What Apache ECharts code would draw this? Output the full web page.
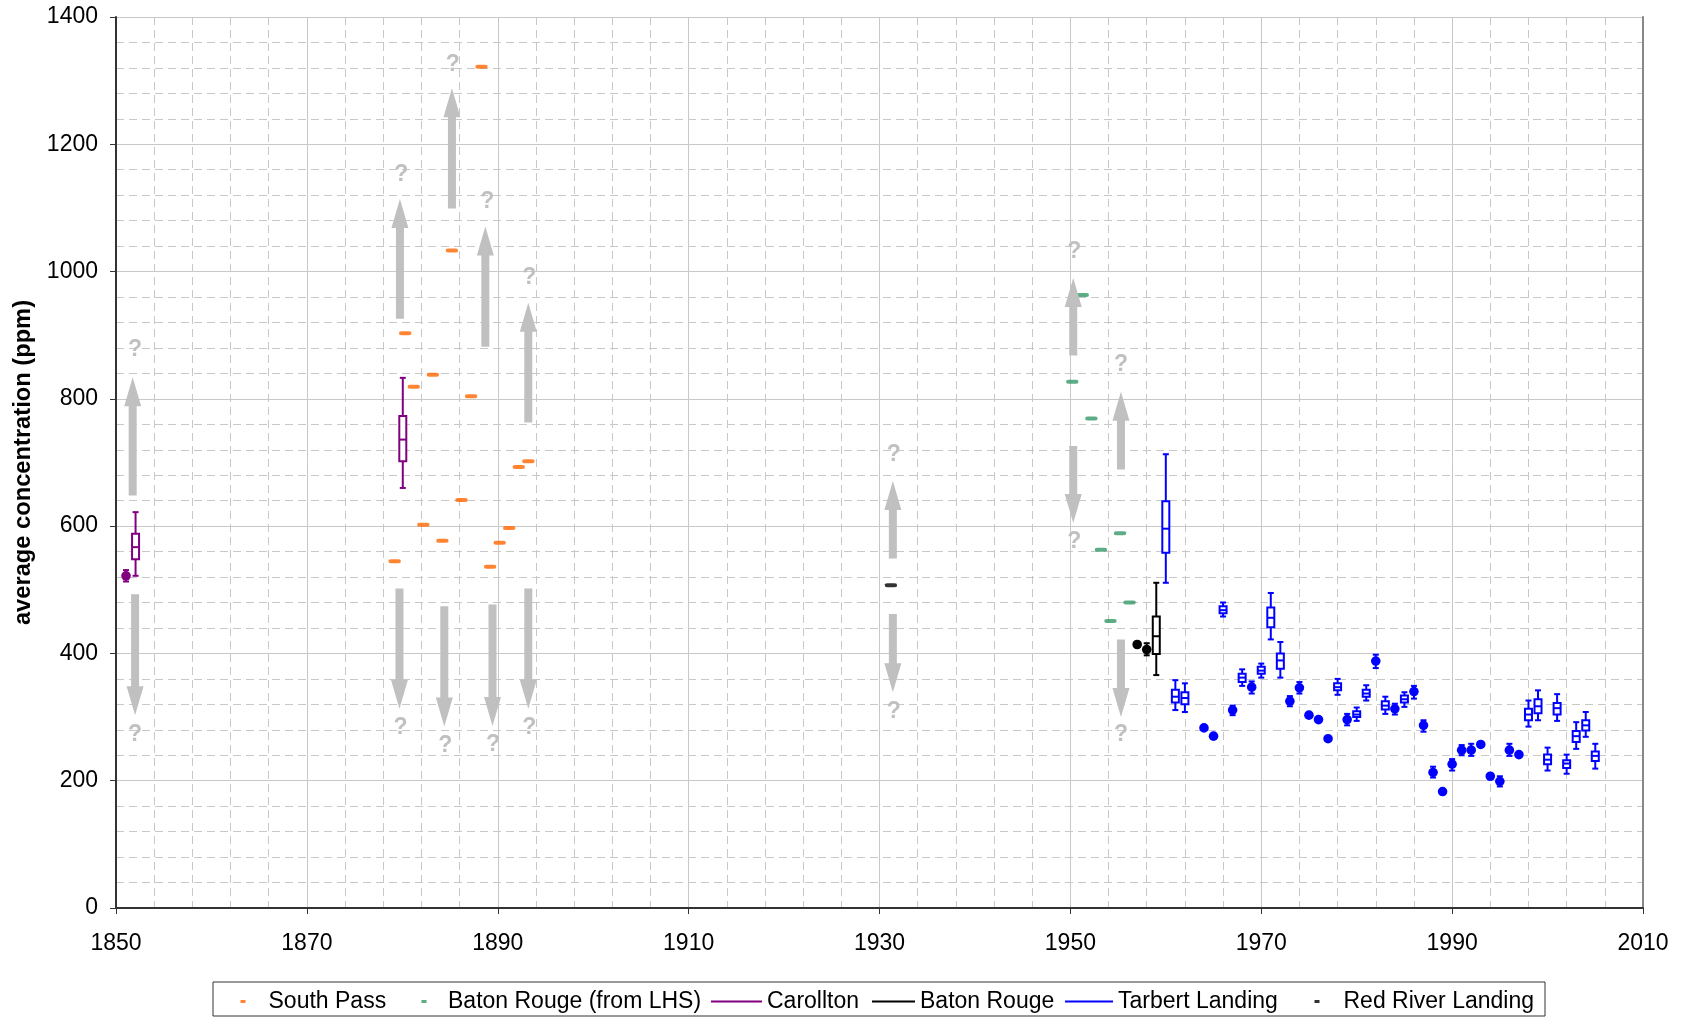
<!DOCTYPE html>
<html>
<head>
<meta charset="utf-8">
<title>Average concentration (ppm)</title>
<script src="https://cdn.jsdelivr.net/npm/echarts@6/dist/echarts.min.js"></script>
<style>
  html, body { margin: 0; padding: 0; background: #fff; }
  #chart { width: 1684px; height: 1018px; }
</style>
</head>
<body>
<div id="chart"></div>
<script>
// values
const xTicks = [1850, 2010, 20];   // min, max, step
const yTicks = [0, 1400, 200];

const southPassYears = [1879.2, 1880.3, 1881.2, 1882.2, 1883.2, 1884.2, 1885.2, 1886.2, 1887.2, 1888.3, 1889.2, 1890.2, 1891.2, 1892.2, 1893.2];
const southPassValues = [545, 903, 819, 602, 838, 577, 1033, 641, 804, 1322, 536, 574, 597, 693, 702];

const batonRougeLhsYears = [1950.2, 1951.3, 1952.2, 1953.2, 1954.2, 1955.2, 1956.2];
const batonRougeLhsValues = [827, 963, 769, 563, 451, 589, 480];

const redRiverYears = [1931.2];
const redRiverValues = [507];

// boxes: [year, low, q1, median, q3, high]; blobs: [year, low, mid, high]; dots: [year, value]
const carolltonBoxes = [[1852.05, 522, 548, 567, 588, 622], [1880.05, 660, 702, 736, 773, 833]];
const carolltonBlobs = [[1851.05, 513, 522, 531]];

const batonRougeBoxes = [[1959, 366, 399, 427, 458, 511]];
const batonRougeBlobs = [[1958, 397, 406, 416]];
const batonRougeDots = [[1957, 414]];

const tarbertBoxes = [
  [1960, 511, 558, 596, 639, 713], [1961, 311, 323, 332, 343, 358], [1962, 308, 320, 330, 339, 353],
  [1966, 458, 463, 468, 474, 480], [1968, 349, 355, 362, 368, 375], [1970, 362, 368, 373, 379, 384],
  [1971, 422, 441, 456, 472, 495], [1972, 362, 376, 389, 400, 418], [1978, 335, 342, 347, 353, 360],
  [1980, 294, 300, 304, 309, 315], [1981, 326, 332, 337, 343, 350], [1983, 305, 312, 318, 325, 332],
  [1985, 316, 323, 328, 334, 339], [1998, 285, 295, 304, 313, 326], [1999, 295, 306, 317, 328, 342],
  [2000, 216, 226, 233, 241, 252], [2001, 294, 304, 314, 322, 336], [2002, 211, 220, 227, 232, 241],
  [2003, 250, 261, 270, 278, 292], [2004, 269, 279, 287, 295, 308], [2005, 219, 231, 239, 246, 258]
];
const tarbertBlobs = [
  [1967, 303, 311, 318], [1969, 337, 347, 356], [1973, 317, 325, 333], [1974, 337, 346, 355],
  [1979, 287, 296, 305], [1982, 377, 388, 398], [1984, 304, 313, 321], [1986, 329, 340, 349],
  [1987, 277, 287, 295], [1988, 205, 213, 222], [1990, 216, 226, 234], [1991, 240, 248, 256],
  [1992, 239, 248, 258], [1995, 191, 199, 207], [1996, 239, 248, 258]
];
const tarbertDots = [
  [1964, 283], [1965, 270], [1975, 303], [1976, 296], [1977, 266],
  [1989, 183], [1993, 257], [1994, 207], [1997, 241]
];

// grey annotation arrows: [year, from, to] and their question marks: [year, value]
const arrows = [
  [1851.75, 648, 834], [1852.0, 493, 303],
  [1879.75, 926, 1114], [1879.7, 502, 313],
  [1885.2, 1099, 1288], [1884.4, 474, 285],
  [1888.7, 882, 1071], [1889.45, 477, 286],
  [1893.2, 763, 951], [1893.2, 502, 313],
  [1931.4, 549, 671], [1931.4, 462, 339],
  [1950.3, 868, 990], [1950.3, 726, 605],
  [1955.3, 689, 811], [1955.3, 422, 300]
];
const questionMarks = [
  [1852.0, 877], [1852.0, 273], [1879.9, 1152], [1879.8, 284],
  [1885.3, 1325], [1884.5, 255], [1888.9, 1110], [1889.5, 256],
  [1893.3, 991], [1893.3, 284], [1931.5, 713], [1931.5, 309],
  [1950.4, 1032], [1950.4, 575], [1955.3, 853], [1955.3, 272]
];

const FONT = '"Liberation Sans", Arial, sans-serif';
const GREY = '#c0c0c0';

function stationRenderer(rows, color) {
  return function (params, api) {
    const row = rows[params.dataIndex];
    const x = api.coord([row[0], 0])[0];
    const y = v => api.coord([row[0], v])[1];
    const line = (x1, y1, x2, y2) => ({
      type: 'line', shape: { x1, y1, x2, y2 }, style: { stroke: color, lineWidth: 2 }
    });
    const kids = [];
    if (row.length === 2) {
      kids.push({ type: 'circle', shape: { cx: x, cy: y(row[1]), r: 4.8 }, style: { fill: color } });
    } else if (row.length === 4) {
      const lo = y(row[1]), hi = y(row[3]);
      kids.push(line(x, lo, x, hi), line(x - 3, lo, x + 3, lo), line(x - 3, hi, x + 3, hi));
      kids.push({ type: 'circle', shape: { cx: x, cy: y(row[2]), r: 4.8 }, style: { fill: color } });
    } else {
      const lo = y(row[1]), q1 = y(row[2]), md = y(row[3]), q3 = y(row[4]), hi = y(row[5]);
      kids.push(line(x, lo, x, hi), line(x - 3, lo, x + 3, lo), line(x - 3, hi, x + 3, hi));
      kids.push({
        type: 'rect', shape: { x: x - 3.5, y: q3, width: 7, height: q1 - q3 },
        style: { fill: '#fff', stroke: color, lineWidth: 2 }
      });
      kids.push(line(x - 3.5, md, x + 3.5, md));
    }
    return { type: 'group', children: kids };
  };
}

function stationSeries(name, color, rows) {
  return {
    name: name,
    type: 'custom',
    itemStyle: { color: color },
    encode: { x: 0, y: 1 },
    data: rows.map(r => [r[0], r[1]]),
    renderItem: stationRenderer(rows, color),
    z: 3
  };
}

function dashSeries(name, color, years, values) {
  return {
    name: name,
    type: 'scatter',
    symbol: 'roundRect',
    symbolSize: [12, 4],
    itemStyle: { color: color },
    data: years.map((yr, i) => [yr, values[i]]),
    z: 3
  };
}

const carolltonRows = [].concat(carolltonBlobs, carolltonBoxes);
const batonRougeRows = [].concat(batonRougeDots, batonRougeBlobs, batonRougeBoxes);
const tarbertRows = [].concat(tarbertBoxes, tarbertBlobs, tarbertDots);

function legendItem(name, left, width, height, pad) {
  return {
    data: [name],
    left: left,
    top: 990,
    padding: 0,
    icon: 'rect',
    itemWidth: width,
    itemHeight: height,
    selectedMode: false,
    textStyle: { fontSize: 23, color: '#000', fontFamily: FONT, padding: [0, 0, 0, pad] }
  };
}

const chart = echarts.init(document.getElementById('chart'));

chart.setOption({
  animation: false,
  backgroundColor: '#fff',
  textStyle: { fontFamily: FONT },
  grid: { left: 116, right: 41, top: 17, bottom: 110 },
  xAxis: {
    type: 'value',
    min: xTicks[0], max: xTicks[1], interval: xTicks[2],
    axisLine: { show: true, onZero: false, lineStyle: { color: '#333', width: 2 } },
    axisTick: { show: true, length: 6, lineStyle: { color: '#333' } },
    axisLabel: { fontSize: 23, color: '#000', margin: 24, fontFamily: FONT, formatter: v => String(v) },
    splitLine: { show: true, lineStyle: { color: '#c8c8c8', width: 1 } },
    minorTick: { show: false, splitNumber: 5 },
    minorSplitLine: { show: true, lineStyle: { color: '#c8c8c8', width: 1, type: [8, 5] } }
  },
  yAxis: [{
    type: 'value',
    min: yTicks[0], max: yTicks[1], interval: yTicks[2],
    name: 'average concentration (ppm)',
    nameLocation: 'middle',
    nameGap: 78,
    nameTextStyle: { fontSize: 23.7, fontWeight: 'bold', color: '#000', fontFamily: FONT },
    axisLine: { show: true, onZero: false, lineStyle: { color: '#333', width: 2 } },
    axisTick: { show: true, length: 6, lineStyle: { color: '#333' } },
    axisLabel: { fontSize: 23, color: '#000', margin: 18, fontFamily: FONT, formatter: v => String(v) },
    splitLine: { show: true, lineStyle: { color: '#c8c8c8', width: 1 } },
    minorTick: { show: false, splitNumber: 5 },
    minorSplitLine: { show: true, lineStyle: { color: '#c8c8c8', width: 1, type: [8, 5] } }
  }, {
    type: 'value',
    position: 'right',
    min: yTicks[0], max: yTicks[1],
    axisLine: { show: true, lineStyle: { color: '#888', width: 2 } },
    axisTick: { show: false },
    axisLabel: { show: false },
    splitLine: { show: false }
  }],
  legend: [
    legendItem('South Pass', 240.5, 5, 3, 18),
    legendItem('Baton Rouge (from LHS)', 421.5, 5, 3, 16.5),
    legendItem('Carollton', 711, 51, 2, 0),
    legendItem('Baton Rouge', 872, 43, 2, 0),
    legendItem('Tarbert Landing', 1065, 48, 2, 0),
    legendItem('Red River Landing', 1314.5, 5, 3, 19)
  ],
  graphic: [{
    type: 'rect',
    shape: { x: 213, y: 982, width: 1332, height: 34 },
    style: { fill: 'none', stroke: '#333', lineWidth: 1 },
    silent: true
  }],
  series: [
    dashSeries('South Pass', '#ff6600', southPassYears, southPassValues),
    dashSeries('Baton Rouge (from LHS)', '#339966', batonRougeLhsYears, batonRougeLhsValues),
    stationSeries('Carollton', '#800080', carolltonRows),
    stationSeries('Baton Rouge', '#000000', batonRougeRows),
    stationSeries('Tarbert Landing', '#0000ff', tarbertRows),
    dashSeries('Red River Landing', '#000000', redRiverYears, redRiverValues),
    {
      name: 'arrows',
      type: 'custom',
      silent: true,
      z: 4,
      encode: { x: 0, y: [1, 2] },
      data: arrows,
      renderItem: function (params, api) {
        const p0 = api.coord([api.value(0), api.value(1)]);
        const p1 = api.coord([api.value(0), api.value(2)]);
        const d = p1[1] > p0[1] ? 1 : -1;
        const x = p0[0];
        const hy = p1[1] - d * 29;
        return {
          type: 'polygon',
          shape: { points: [[x - 4, p0[1]], [x - 4, hy], [x - 8.5, hy], [x, p1[1]], [x + 8.5, hy], [x + 4, hy], [x + 4, p0[1]]] },
          style: { fill: GREY }
        };
      }
    },
    {
      name: 'question marks',
      type: 'custom',
      silent: true,
      z: 4,
      encode: { x: 0, y: 1 },
      data: questionMarks,
      renderItem: function (params, api) {
        const p = api.coord([api.value(0), api.value(1)]);
        return {
          type: 'text',
          x: p[0],
          y: p[1],
          style: { text: '?', fill: GREY, font: 'bold 23px ' + FONT, align: 'center', verticalAlign: 'middle' }
        };
      }
    }
  ]
});
</script>
</body>
</html>
